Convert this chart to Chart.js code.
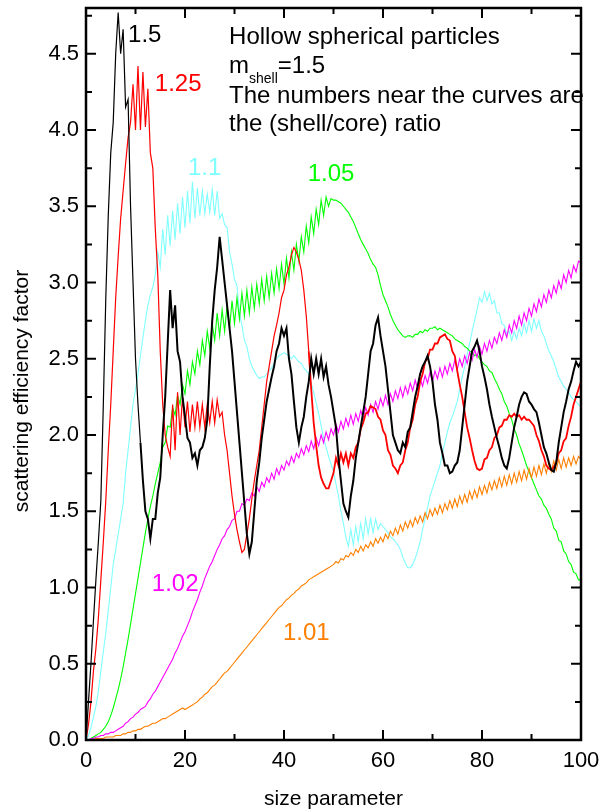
<!DOCTYPE html>
<html>
<head>
<meta charset="utf-8">
<title>Hollow spherical particles - scattering efficiency</title>
<script src="https://cdn.jsdelivr.net/npm/chart.js@4.4.1/dist/chart.umd.min.js"></script>
<style>
    html, body { margin: 0; padding: 0; background: #fff; }
    #chart { display: block; }
</style>
</head>
<body>
<canvas id="chart" width="600" height="812"></canvas>
<script>
// Sampling grid of the size parameter (0 .. 100, every 0.5)
const STEP = 0.5;
const sizeParam = Array.from({ length: 201 }, (_, i) => i * STEP);

// Scattering efficiency, one value per grid point
const ratio150 = [
    0, 0.25, 0.5, 0.78, 1.05, 1.3, 1.57, 2.2, 2.9, 3.44, 3.85, 4.05, 4.5, 4.77, 4.5, 4.66, 4.15, 4.2, 3.5, 3.0,
    2.5, 2.2, 1.95, 1.7, 1.5, 1.45, 1.32, 1.45, 1.45, 1.62, 1.72, 2.0, 2.25, 2.6, 2.95, 2.7, 2.85, 2.55, 2.48, 2.25,
    2.12, 1.98, 1.95, 1.85, 1.88, 1.8, 1.9, 1.92, 1.98, 2.1, 2.45, 2.75, 2.95, 3.1, 3.3, 3.15, 3.0, 2.85, 2.7, 2.55,
    2.35, 2.15, 1.95, 1.75, 1.55, 1.35, 1.22, 1.3, 1.5, 1.7, 1.82, 1.98, 2.1, 2.22, 2.3, 2.38, 2.45, 2.55, 2.6, 2.7,
    2.65, 2.7, 2.5, 2.4, 2.22, 2.05, 1.95, 2.05, 2.12, 2.25, 2.35, 2.5, 2.4, 2.5, 2.4, 2.5, 2.38, 2.45, 2.33, 2.25,
    2.15, 2.05, 1.85, 1.7, 1.55, 1.5, 1.46, 1.6, 1.7, 1.85, 1.95, 2.05, 2.15, 2.25, 2.4, 2.55, 2.6, 2.72, 2.77, 2.65,
    2.55, 2.45, 2.3, 2.15, 2.0, 1.95, 1.9, 1.88, 1.95, 1.92, 2.02, 2.05, 2.15, 2.25, 2.32, 2.4, 2.45, 2.48, 2.52, 2.45,
    2.35, 2.2, 2.1, 1.95, 1.88, 1.8, 1.8, 1.75, 1.76, 1.8, 1.82, 1.9, 2.05, 2.2, 2.35, 2.45, 2.55, 2.58, 2.62, 2.55,
    2.45, 2.38, 2.3, 2.2, 2.12, 2.05, 1.98, 1.92, 1.85, 1.8, 1.78, 1.85, 1.95, 2.05, 2.12, 2.2, 2.25, 2.28, 2.27, 2.22,
    2.2, 2.17, 2.15, 2.08, 2.0, 1.92, 1.88, 1.82, 1.77, 1.76, 1.82, 1.95, 2.05, 2.15, 2.22, 2.3, 2.35, 2.42, 2.48, 2.45,
    2.48
];
const ratio125 = [
    0, 0.1, 0.25, 0.45, 0.6, 0.8, 1.05, 1.3, 1.57, 1.9, 2.2, 2.55, 2.9, 3.17, 3.42, 3.6, 3.78, 3.95, 4.05, 4.3,
    4.0, 4.42, 4.0, 4.38, 4.02, 4.27, 3.85, 3.75, 3.35, 3.05, 2.55, 2.2, 2.0, 1.92, 1.86, 2.2, 1.9, 2.28, 2.0, 2.25,
    2.05, 2.22, 2.02, 2.2, 2.05, 2.22, 2.05, 2.2, 2.05, 2.2, 2.08, 2.22, 2.08, 2.23, 2.12, 2.15, 2.0, 1.9, 1.75, 1.6,
    1.48, 1.38, 1.3, 1.23, 1.25, 1.35, 1.45, 1.58, 1.7, 1.8, 1.9, 2.05, 2.2, 2.35, 2.45, 2.55, 2.65, 2.72, 2.8, 2.9,
    2.95, 3.05, 3.1, 3.18, 3.23, 3.2, 3.15, 3.08, 2.95, 2.78, 2.55, 2.3, 2.08, 1.93, 1.8, 1.72, 1.68, 1.65, 1.65, 1.7,
    1.75, 1.85, 1.8, 1.88, 1.82, 1.88, 1.8, 1.88, 1.85, 1.92, 1.95, 2.04, 2.08, 2.14, 2.15, 2.19, 2.18, 2.17, 2.12, 2.1,
    2.03, 2.0, 1.9, 1.87, 1.8, 1.78, 1.75, 1.8, 1.82, 1.9, 1.95, 2.05, 2.1, 2.2, 2.25, 2.35, 2.4, 2.48, 2.5, 2.56,
    2.56, 2.6, 2.6, 2.64, 2.65, 2.66, 2.63, 2.62, 2.55, 2.52, 2.42, 2.33, 2.25, 2.15, 2.05, 1.98, 1.9, 1.83, 1.78, 1.77,
    1.78, 1.84, 1.85, 1.9, 1.92, 1.98, 2.0, 2.05, 2.06, 2.1, 2.1, 2.13, 2.12, 2.14, 2.12, 2.13, 2.1, 2.12, 2.1, 2.1,
    2.08, 2.06, 2.0, 1.96, 1.9, 1.86, 1.8, 1.78, 1.77, 1.79, 1.82, 1.88, 1.9, 1.96, 1.98, 2.06, 2.12, 2.2, 2.25, 2.3,
    2.35
];
const ratio110 = [
    0, 0.03, 0.08, 0.15, 0.22, 0.32, 0.45, 0.58, 0.7, 0.85, 1.0, 1.15, 1.25, 1.35, 1.45, 1.55, 1.75, 1.9, 2.05, 2.2,
    2.3, 2.4, 2.52, 2.64, 2.75, 2.85, 2.92, 2.97, 3.05, 3.2, 3.1, 3.35, 3.18, 3.44, 3.24, 3.47, 3.28, 3.52, 3.32, 3.56,
    3.36, 3.6, 3.39, 3.66, 3.42, 3.62, 3.44, 3.6, 3.45, 3.58, 3.46, 3.61, 3.44, 3.6, 3.42, 3.45, 3.38, 3.36, 3.2, 3.12,
    3.02, 2.98, 2.8, 2.72, 2.62, 2.58, 2.5, 2.45, 2.42, 2.39, 2.37, 2.38, 2.38, 2.4, 2.42, 2.44, 2.47, 2.5, 2.52, 2.53,
    2.54, 2.53, 2.52, 2.5, 2.52, 2.5, 2.48, 2.47, 2.44, 2.42, 2.4, 2.34, 2.28, 2.21, 2.14, 2.06, 1.98, 1.92, 1.86, 1.81,
    1.76, 1.68, 1.6, 1.5, 1.42, 1.33, 1.27, 1.38, 1.28, 1.4, 1.3, 1.42, 1.32, 1.45, 1.35, 1.45, 1.36, 1.45, 1.38, 1.42,
    1.4, 1.38, 1.36, 1.33, 1.32, 1.3, 1.28, 1.25, 1.2, 1.16, 1.13, 1.13, 1.15, 1.19, 1.24, 1.3, 1.38, 1.45, 1.52, 1.6,
    1.65, 1.7, 1.75, 1.8, 1.88, 1.95, 2.02, 2.08, 2.12, 2.17, 2.22, 2.3, 2.38, 2.45, 2.53, 2.6, 2.68, 2.75, 2.82, 2.9,
    2.87, 2.94, 2.88, 2.93, 2.86, 2.88, 2.8, 2.8, 2.73, 2.72, 2.66, 2.68, 2.62, 2.68, 2.63, 2.7, 2.65, 2.73, 2.67, 2.75,
    2.68, 2.76, 2.7, 2.75, 2.68, 2.65, 2.6, 2.55, 2.52, 2.48, 2.43, 2.38, 2.35, 2.32, 2.3, 2.28, 2.25, 2.23, 2.22, 2.2,
    2.18
];
const ratio105 = [
    0, 0, 0.01, 0.02, 0.03, 0.04, 0.05, 0.07, 0.09, 0.12, 0.16, 0.21, 0.27, 0.33, 0.4, 0.48, 0.57, 0.66, 0.76, 0.86,
    0.96, 1.06, 1.16, 1.26, 1.36, 1.45, 1.53, 1.6, 1.68, 1.75, 1.82, 1.92, 1.95, 2.06, 2.05, 2.18, 2.13, 2.26, 2.2, 2.33,
    2.27, 2.42, 2.33, 2.48, 2.4, 2.55, 2.46, 2.62, 2.52, 2.68, 2.57, 2.73, 2.62, 2.8, 2.65, 2.82, 2.68, 2.85, 2.7, 2.88,
    2.73, 2.9, 2.76, 2.93, 2.78, 2.95, 2.8, 2.97, 2.83, 2.99, 2.86, 3.02, 2.88, 3.04, 2.9, 3.06, 2.93, 3.09, 2.96, 3.12,
    2.99, 3.16, 3.03, 3.2, 3.08, 3.25, 3.14, 3.3, 3.2, 3.37, 3.26, 3.43, 3.32, 3.48, 3.38, 3.54, 3.44, 3.56, 3.5, 3.55,
    3.54, 3.54, 3.53, 3.52, 3.5, 3.48, 3.46, 3.43, 3.4, 3.36, 3.32, 3.28, 3.25, 3.22, 3.19, 3.15, 3.12, 3.1, 3.05, 2.98,
    2.92, 2.88, 2.84, 2.79, 2.75, 2.72, 2.69, 2.67, 2.65, 2.64, 2.65, 2.65, 2.64, 2.66, 2.66, 2.68, 2.67, 2.69, 2.68, 2.7,
    2.7, 2.71, 2.69, 2.7, 2.69, 2.68, 2.67, 2.66, 2.65, 2.63, 2.62, 2.61, 2.6, 2.58, 2.57, 2.55, 2.54, 2.52, 2.53, 2.5,
    2.48, 2.46, 2.45, 2.42, 2.41, 2.37, 2.34, 2.3, 2.27, 2.22, 2.19, 2.14, 2.1, 2.04, 2.0, 1.94, 1.9, 1.85, 1.8, 1.76,
    1.72, 1.68, 1.64, 1.6, 1.58, 1.54, 1.52, 1.48, 1.45, 1.39, 1.37, 1.31, 1.3, 1.24, 1.22, 1.17, 1.15, 1.1, 1.09, 1.05,
    1.05
];
const ratio102 = [
    0, 0, 0.01, 0.01, 0.02, 0.02, 0.03, 0.03, 0.04, 0.04, 0.05, 0.05, 0.06, 0.07, 0.08, 0.09, 0.11, 0.12, 0.14, 0.15,
    0.17, 0.18, 0.2, 0.21, 0.22, 0.25, 0.27, 0.3, 0.32, 0.35, 0.38, 0.41, 0.44, 0.47, 0.5, 0.53, 0.57, 0.6, 0.64, 0.68,
    0.71, 0.75, 0.79, 0.84, 0.88, 0.92, 0.97, 1.01, 1.06, 1.1, 1.14, 1.17, 1.21, 1.25, 1.28, 1.32, 1.34, 1.38, 1.4, 1.44,
    1.45, 1.5, 1.5, 1.55, 1.54, 1.58, 1.57, 1.62, 1.6, 1.66, 1.63, 1.69, 1.66, 1.72, 1.69, 1.75, 1.71, 1.78, 1.74, 1.8,
    1.77, 1.83, 1.8, 1.86, 1.82, 1.88, 1.85, 1.91, 1.87, 1.93, 1.89, 1.96, 1.91, 1.98, 1.93, 2.0, 1.95, 2.02, 1.97, 2.04,
    2.0, 2.07, 2.02, 2.09, 2.04, 2.11, 2.06, 2.13, 2.07, 2.14, 2.09, 2.16, 2.11, 2.18, 2.13, 2.2, 2.15, 2.22, 2.17, 2.24,
    2.19, 2.26, 2.2, 2.27, 2.22, 2.29, 2.24, 2.31, 2.25, 2.32, 2.27, 2.34, 2.29, 2.36, 2.3, 2.37, 2.32, 2.39, 2.34, 2.41,
    2.35, 2.42, 2.37, 2.44, 2.38, 2.45, 2.4, 2.47, 2.42, 2.49, 2.43, 2.5, 2.45, 2.52, 2.47, 2.54, 2.49, 2.56, 2.51, 2.58,
    2.53, 2.6, 2.55, 2.62, 2.57, 2.64, 2.6, 2.67, 2.62, 2.69, 2.64, 2.72, 2.67, 2.75, 2.7, 2.78, 2.72, 2.8, 2.75, 2.83,
    2.78, 2.86, 2.81, 2.89, 2.84, 2.92, 2.87, 2.95, 2.9, 2.98, 2.93, 3.01, 2.96, 3.05, 3.0, 3.08, 3.03, 3.11, 3.07, 3.14,
    3.13
];
const ratio101 = [
    0, 0, 0, 0, 0.01, 0.01, 0.01, 0.01, 0.02, 0.02, 0.02, 0.02, 0.03, 0.03, 0.03, 0.04, 0.04, 0.05, 0.05, 0.06,
    0.06, 0.07, 0.07, 0.08, 0.09, 0.09, 0.1, 0.11, 0.11, 0.12, 0.13, 0.14, 0.14, 0.15, 0.16, 0.17, 0.18, 0.19, 0.2, 0.21,
    0.2, 0.21, 0.22, 0.23, 0.24, 0.25, 0.27, 0.28, 0.3, 0.31, 0.33, 0.35, 0.36, 0.38, 0.4, 0.42, 0.44, 0.45, 0.47, 0.49,
    0.51, 0.53, 0.55, 0.57, 0.59, 0.61, 0.63, 0.65, 0.67, 0.69, 0.71, 0.73, 0.75, 0.77, 0.79, 0.81, 0.83, 0.85, 0.87, 0.88,
    0.9, 0.92, 0.93, 0.95, 0.96, 0.98, 0.99, 1.01, 1.02, 1.03, 1.05, 1.06, 1.07, 1.08, 1.09, 1.1, 1.11, 1.12, 1.13, 1.14,
    1.15, 1.17, 1.16, 1.19, 1.18, 1.21, 1.2, 1.23, 1.21, 1.25, 1.23, 1.27, 1.24, 1.28, 1.26, 1.3, 1.27, 1.32, 1.29, 1.33,
    1.3, 1.35, 1.32, 1.37, 1.34, 1.39, 1.35, 1.41, 1.37, 1.43, 1.39, 1.44, 1.4, 1.46, 1.42, 1.47, 1.43, 1.49, 1.45, 1.51,
    1.47, 1.52, 1.48, 1.54, 1.49, 1.55, 1.51, 1.57, 1.52, 1.58, 1.53, 1.6, 1.55, 1.61, 1.56, 1.63, 1.58, 1.64, 1.59, 1.66,
    1.61, 1.67, 1.62, 1.69, 1.64, 1.7, 1.65, 1.72, 1.66, 1.73, 1.67, 1.74, 1.68, 1.75, 1.69, 1.76, 1.7, 1.77, 1.71, 1.78,
    1.72, 1.79, 1.73, 1.8, 1.74, 1.81, 1.75, 1.82, 1.76, 1.83, 1.77, 1.84, 1.78, 1.85, 1.79, 1.85, 1.8, 1.86, 1.81, 1.86,
    1.84
];

// Axis ticks
const xTickLabels = [0, 20, 40, 60, 80, 100];
const yTickLabels = [0, 0.5, 1.0, 1.5, 2.0, 2.5, 3.0, 3.5, 4.0, 4.5];
const xTickMarks = [0, 10, 20, 30, 40, 50, 60, 70, 80, 90, 100];
const yTickMarks = [0, 0.25, 0.5, 0.75, 1.0, 1.25, 1.5, 1.75, 2.0, 2.25, 2.5, 2.75, 3.0, 3.25, 3.5, 3.75, 4.0, 4.25, 4.5, 4.75];

// Curve labels (anchored in data coordinates: left edge, vertical middle)
const curveLabels = [
    { text: '1.5', x: 8.5, y: 4.62, color: '#000000' },
    { text: '1.25', x: 13.9, y: 4.30, color: '#ff0000' },
    { text: '1.1', x: 20.6, y: 3.75, color: '#80ffff' },
    { text: '1.05', x: 44.8, y: 3.71, color: '#00ff00' },
    { text: '1.02', x: 13.3, y: 1.02, color: '#ff00ff' },
    { text: '1.01', x: 39.8, y: 0.70, color: '#ff8000' }
];

const FONT = '"Liberation Sans", Arial, Helvetica, sans-serif';

function toPoints(values) {
    return values.map((v, i) => ({ x: sizeParam[i], y: v }));
}

/**
 * Frame, inward ticks on all four sides, axis titles and text notes
 */
const plotDecorations = {
    id: 'plotDecorations',
    afterDatasetsDraw(chart) {
        const { ctx, chartArea: a, scales: { x, y } } = chart;
        ctx.save();

        // Ticks
        ctx.strokeStyle = '#000';
        ctx.lineWidth = 2;
        ctx.beginPath();
        xTickMarks.forEach(v => {
            const px = x.getPixelForValue(v);
            const len = v % 20 === 0 ? 10 : 6;
            ctx.moveTo(px, a.bottom);
            ctx.lineTo(px, a.bottom - len);
            ctx.moveTo(px, a.top);
            ctx.lineTo(px, a.top + len);
        });
        yTickMarks.forEach(v => {
            const py = y.getPixelForValue(v);
            const len = Math.round(v * 100) % 50 === 0 ? 10 : 6;
            ctx.moveTo(a.left, py);
            ctx.lineTo(a.left + len, py);
            ctx.moveTo(a.right, py);
            ctx.lineTo(a.right - len, py);
        });
        ctx.stroke();

        // Frame
        ctx.lineWidth = 2.5;
        ctx.strokeRect(a.left, a.top, a.right - a.left, a.bottom - a.top);

        // Curve labels
        ctx.font = '24px ' + FONT;
        ctx.textAlign = 'left';
        ctx.textBaseline = 'middle';
        curveLabels.forEach(l => {
            ctx.fillStyle = l.color;
            ctx.fillText(l.text, x.getPixelForValue(l.x), y.getPixelForValue(l.y));
        });

        // Note in the upper right
        const noteX = x.getPixelForValue(28.9);
        ctx.fillStyle = '#000';
        ctx.textBaseline = 'alphabetic';
        ctx.font = '24px ' + FONT;
        ctx.fillText('Hollow spherical particles', noteX, y.getPixelForValue(4.565));
        const line2 = y.getPixelForValue(4.375);
        ctx.fillText('m', noteX, line2);
        let cursor = noteX + ctx.measureText('m').width;
        ctx.font = '14px ' + FONT;
        ctx.fillText('shell', cursor, line2 + 10);
        cursor += ctx.measureText('shell').width;
        ctx.font = '24px ' + FONT;
        ctx.fillText('=1.5', cursor, line2);
        ctx.fillText('The numbers near the curves are', noteX, y.getPixelForValue(4.178));
        ctx.fillText('the (shell/core) ratio', noteX, y.getPixelForValue(3.995));

        // Axis titles
        ctx.font = '21px ' + FONT;
        ctx.textAlign = 'center';
        ctx.textBaseline = 'middle';
        ctx.fillText('size parameter', (a.left + a.right) / 2, 799);
        ctx.save();
        ctx.translate(22, 391);
        ctx.rotate(-Math.PI / 2);
        ctx.fillText('scattering efficiency factor', 0, 0);
        ctx.restore();

        ctx.restore();
    }
};

const tickFont = { family: FONT, size: 22 };

new Chart(document.getElementById('chart'), {
    type: 'line',
    data: {
        datasets: [
            { label: '1.5', data: toPoints(ratio150), borderColor: '#000000', borderWidth: 1.2,
              segment: { borderWidth: c => (c.p0.parsed.x >= 11 ? 2 : 1.2) } },
            { label: '1.25', data: toPoints(ratio125), borderColor: '#ff0000', borderWidth: 1.2,
              segment: { borderWidth: c => (c.p0.parsed.x >= 45 ? 1.8 : 1.2) } },
            { label: '1.02', data: toPoints(ratio102), borderColor: '#ff00ff', borderWidth: 1.1 },
            { label: '1.01', data: toPoints(ratio101), borderColor: '#ff8000', borderWidth: 1.1 },
            { label: '1.05', data: toPoints(ratio105), borderColor: '#00ff00', borderWidth: 1.1 },
            { label: '1.1', data: toPoints(ratio110), borderColor: '#80ffff', borderWidth: 1.1 }
        ]
    },
    options: {
        responsive: false,
        animation: false,
        devicePixelRatio: 1,
        layout: { padding: { top: 8, right: 19, left: 0, bottom: 0 } },
        elements: {
            point: { radius: 0 },
            line: { tension: 0, fill: false }
        },
        plugins: {
            legend: { display: false },
            tooltip: { enabled: false }
        },
        scales: {
            x: {
                type: 'linear',
                min: 0,
                max: 100,
                afterBuildTicks: scale => { scale.ticks = xTickLabels.map(v => ({ value: v })); },
                afterFit: scale => {
                    scale.height = 72;
                    scale.paddingLeft = 0;
                    scale.paddingRight = 0;
                },
                ticks: { font: tickFont, color: '#000', padding: 8, maxRotation: 0, autoSkip: false },
                grid: { display: false, drawTicks: false },
                border: { display: false }
            },
            y: {
                type: 'linear',
                min: 0,
                max: 4.8,
                afterBuildTicks: scale => { scale.ticks = yTickLabels.map(v => ({ value: v })); },
                afterFit: scale => {
                    scale.width = 86;
                    scale.paddingTop = 0;
                    scale.paddingBottom = 0;
                },
                ticks: {
                    font: tickFont, color: '#000', padding: 7, autoSkip: false,
                    callback: v => Number(v).toFixed(1)
                },
                grid: { display: false, drawTicks: false },
                border: { display: false }
            }
        }
    },
    plugins: [plotDecorations]
});
</script>
</body>
</html>
